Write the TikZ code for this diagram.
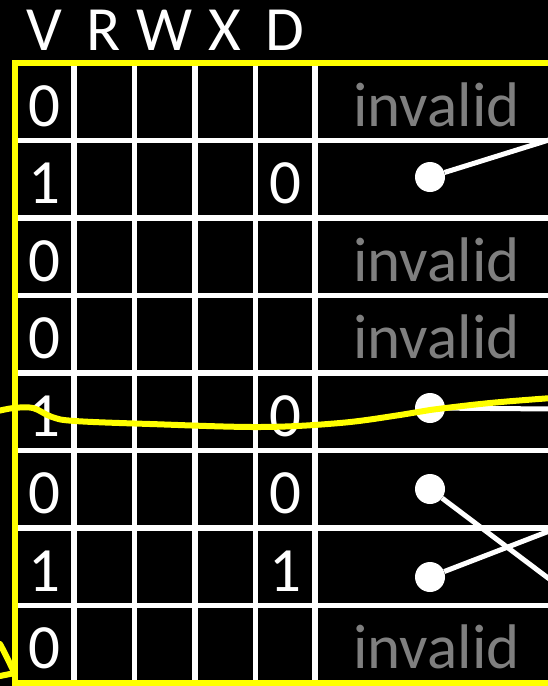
\documentclass[tikz,border=0pt]{standalone}
\usepackage{fontspec}
\setmainfont{Carlito}
\usepackage{tikz}
\definecolor{marker}{RGB}{255,255,0}
\definecolor{dimtext}{RGB}{127,127,127}

\begin{document}
\begin{tikzpicture}[x=1pt, y=-1pt,
    every node/.style={inner sep=0pt, anchor=base, text=white, font=\fontsize{63}{70}\selectfont},
    invalid/.style={text=dimtext},
    entry/.style={circle, fill=white, anchor=center, minimum size=30pt},
    link/.style={draw=white, line width=5pt},
    gridline/.style={white, line width=5.5pt},
    border/.style={marker, line width=6pt},
    scribble/.style={marker, line width=6pt, line cap=round, line join=round}]
    \useasboundingbox (0,0) rectangle (548,686);
    \fill[black] (0,0) rectangle (548,686);
    \clip (0,0) rectangle (548,686);

    \foreach \y in {140.5,218,295.5,373,450.5,528,605.5}
        \draw[gridline] (14.5,\y) -- (560,\y);
    \foreach \x in {74,134.5,195,255.5,315}
        \draw[gridline] (\x,63) -- (\x,683);
    \draw[border] (560,63) -- (14.5,63) -- (14.5,683) -- (560,683);

    \node at (44,50) (hV) {V};
    \node at (104,50) (hR) {R};
    \node at (165,50) (hW) {W};
    \node at (225,50) (hX) {X};
    \node at (285,50) (hD) {D};

    \node at (44,126) (v1) {0};
    \node at (44,203.5) (v2) {1};
    \node at (44,281) (v3) {0};
    \node at (44,358.5) (v4) {0};
    \node at (44,436) (v5) {1};
    \node at (44,513.5) (v6) {0};
    \node at (44,591) (v7) {1};
    \node at (44,668.5) (v8) {0};

    \node at (285,203.5) (d2) {0};
    \node at (285,436) (d5) {0};
    \node at (285,513.5) (d6) {0};
    \node at (285,591) (d7) {1};

    \node[invalid] at (436.5,126) (i1) {invalid};
    \node[invalid] at (436.5,281) (i3) {invalid};
    \node[invalid] at (436.5,358.5) (i4) {invalid};
    \node[invalid] at (436.5,668.5) (i8) {invalid};

    \node[entry] at (430,177) (p2) {};
    \node[entry] at (430,408) (p5) {};
    \node[entry] at (430,489) (p6) {};
    \node[entry] at (430,577) (p7) {};

    \coordinate (e2) at (552,139);
    \coordinate (e5) at (552,409);
    \coordinate (e6) at (552,581);
    \coordinate (e7) at (552,530);

    \draw[link] (p2) -- (e2);
    \draw[link] (p5) -- (e5);
    \draw[link] (p6) -- (e6);
    \draw[link] (p7) -- (e7);

    \draw[scribble] plot[smooth, tension=0.6] coordinates {(-2,411) (14,408) (33,408) (52,417) (75,421) (150,424) (260,427) (340,423) (400,415) (430,410) (490,403) (552,398)};
    \draw[scribble] (0,644) .. controls (6,655) and (10,664) .. (14,672);
    \draw[scribble] (0,676) -- (15,673);
\end{tikzpicture}
\end{document}
